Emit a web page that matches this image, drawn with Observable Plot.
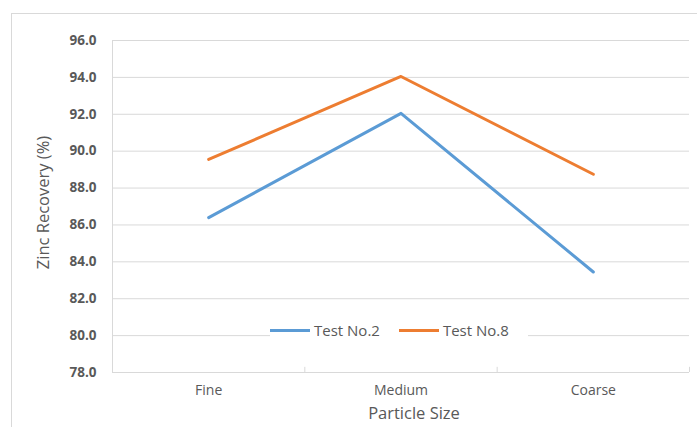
<!DOCTYPE html>
<html><head><meta charset="utf-8">
<script src="https://cdn.jsdelivr.net/npm/d3@7"></script>
<script src="https://cdn.jsdelivr.net/npm/@observablehq/plot@0.6"></script>
<style>
body{margin:0;background:#fff;font-family:"Open Sans",sans-serif;}
#wrap{position:relative;width:697px;height:427px;overflow:hidden;}
#frame{position:absolute;left:11px;top:13px;width:700px;height:440px;border:1.5px solid #d9d9d9;box-sizing:border-box;}
#legend{position:absolute;top:320px;left:270px;display:flex;align-items:center;font-size:15px;color:#595959;background:#fff;}
#legend span.sw{display:inline-block;width:40px;height:3px;margin-right:4px;}
#legend span.t{margin-right:19px;}
</style></head>
<body><div id="wrap"><div id="frame"></div></div>
<script>
const categories = ["Fine", "Medium", "Coarse"];
const seriesNames = ["Test No.2", "Test No.8"];
const test2 = [86.4, 92.05, 83.45];
const test8 = [89.55, 94.05, 88.75];
const yTicks = [78, 80, 82, 84, 86, 88, 90, 92, 94, 96];
const colors = ["#5B9BD5", "#ED7D31"];

const data = [];
[test2, test8].forEach((vals, s) => vals.forEach((v, i) => data.push({series: seriesNames[s], i, v})));
const boundaries = d3.range(-0.5, categories.length, 1);

const chart = Plot.plot({
  width: 697, height: 427,
  marginLeft: 112, marginRight: 8, marginTop: 40, marginBottom: 55,
  style: {fontFamily: "Open Sans, sans-serif", background: "transparent"},
  x: {domain: [-0.5, categories.length - 0.5]},
  y: {domain: [78, 96]},
  color: {domain: seriesNames, range: colors},
  marks: [
    Plot.ruleY(yTicks, {stroke: "#d9d9d9", strokeWidth: 1}),
    Plot.ruleX([-0.5], {stroke: "#d9d9d9"}),
    Plot.ruleX(boundaries, {y1: 78, y2: 78.28, stroke: "#d9d9d9"}),
    Plot.axisY({ticks: yTicks, tickFormat: d => d.toFixed(1), tickSize: 0, tickPadding: 16,
      fontSize: 13.5, fontWeight: "bold", fill: "#595959", label: null}),
    Plot.axisX({ticks: d3.range(categories.length), tickFormat: i => categories[i], tickSize: 0,
      tickPadding: 13, fontSize: 14, fill: "#595959", label: null}),
    Plot.text(["Zinc Recovery (%)"], {frameAnchor: "left", textAnchor: "middle", dx: -69, dy: -4, rotate: -90, fontSize: 16.5, fill: "#595959"}),
    Plot.text(["Particle Size"], {frameAnchor: "bottom", dx: 13, dy: 46, fontSize: 16.5, fill: "#595959"}),
    Plot.line(data, {x: "i", y: "v", z: "series", stroke: "series", strokeWidth: 3, strokeLinecap: "round", strokeLinejoin: "round"})
  ]
});
chart.style.position = "absolute";
chart.style.left = "0px";
chart.style.top = "0px";
document.getElementById("wrap").appendChild(chart);

const legend = document.createElement("div");
legend.id = "legend";
seriesNames.forEach((n, s) => {
  const sw = document.createElement("span"); sw.className = "sw"; sw.style.background = colors[s];
  const t = document.createElement("span"); t.className = "t"; t.textContent = n;
  legend.appendChild(sw); legend.appendChild(t);
});
document.getElementById("wrap").appendChild(legend);
</script></body></html>
